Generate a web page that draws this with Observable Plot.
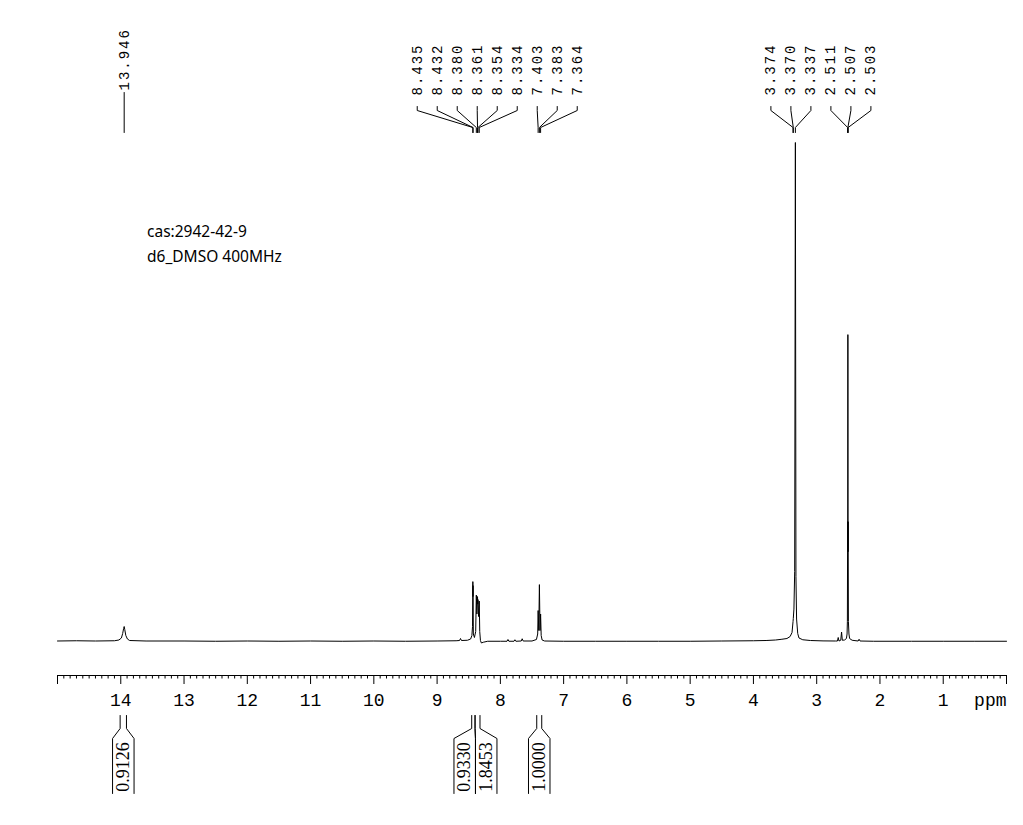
<!DOCTYPE html>
<html>
<head>
<meta charset="utf-8">
<script src="https://cdn.jsdelivr.net/npm/d3@7"></script>
<script src="https://cdn.jsdelivr.net/npm/@observablehq/plot@0.6"></script>
<style>
html, body { margin: 0; padding: 0; background: #ffffff; }
</style>
</head>
<body>
<div id="chart"></div>
<script>
// ---------------- DATA ----------------
const peakPpm = [13.946, 8.435, 8.432, 8.380, 8.361, 8.354, 8.334, 7.403, 7.383, 7.364, 3.374, 3.370, 3.337, 2.511, 2.507, 2.503];
const peakLabels = ["13.946", "8.435", "8.432", "8.380", "8.361", "8.354", "8.334", "7.403", "7.383", "7.364", "3.374", "3.370", "3.337", "2.511", "2.507", "2.503"];

const integralFrom = [14.01, 8.453, 8.40, 7.425];
const integralTo = [13.91, 8.40, 8.322, 7.346];
const integralValues = ["0.9126", "0.9330", "1.8453", "1.0000"];

const tickLabels = [1, 2, 3, 4, 5, 6, 7, 8, 9, 10, 11, 12, 13, 14];
const unitLabel = "ppm";
const infoLines = ["cas:2942-42-9", "d6_DMSO 400MHz"];

// spectrum trace: chemical shift (ppm) and relative intensity
const spectrumPpm = [15.0, 14.7, 14.4, 14.1, 14.03, 13.99, 13.97, 13.955, 13.946, 13.937, 13.92, 13.895, 13.86, 13.6, 13.0, 12.5, 12.0, 11.5, 11.0, 10.5, 10.0, 9.5, 9.0, 8.7, 8.645, 8.63, 8.615, 8.52, 8.47, 8.45, 8.44, 8.435, 8.4335, 8.432, 8.427, 8.41, 8.39, 8.380, 8.371, 8.361, 8.358, 8.354, 8.344, 8.334, 8.326, 8.315, 8.30, 8.27, 8.2, 8.0, 7.895, 7.88, 7.865, 7.785, 7.77, 7.755, 7.67, 7.655, 7.64, 7.5, 7.43, 7.41, 7.403, 7.393, 7.383, 7.373, 7.364, 7.355, 7.34, 7.3, 7.0, 6.5, 6.0, 5.5, 5.0, 4.5, 4.0, 3.8, 3.65, 3.55, 3.47, 3.42, 3.39, 3.374, 3.370, 3.36, 3.348, 3.337, 3.328, 3.318, 3.30, 3.28, 3.22, 3.1, 2.9, 2.7, 2.672, 2.66, 2.648, 2.62, 2.607, 2.595, 2.56, 2.53, 2.52, 2.515, 2.511, 2.509, 2.507, 2.505, 2.503, 2.499, 2.49, 2.48, 2.44, 2.345, 2.33, 2.315, 2.1, 1.5, 1.0, 0.5, 0.0];
const spectrumIntensity = [0.1, 0.15, 0.1, 0.15, 0.3, 0.7, 1.6, 2.6, 3.0, 2.4, 1.2, 0.5, 0.2, 0.1, 0.1, 0.05, 0.1, 0.05, 0.1, 0.05, 0.1, 0.05, 0.1, 0.15, 0.2, 0.6, 0.2, 0.25, 0.5, 1.2, 3.0, 12.0, 9.0, 11.2, 1.5, 0.8, 2.0, 9.3, 5.5, 9.0, 7.5, 8.4, 5.0, 8.1, 2.0, 0.2, -0.3, -0.15, 0.05, 0.05, 0.05, 0.4, 0.05, 0.05, 0.35, 0.05, 0.1, 0.55, 0.1, 0.1, 0.4, 1.5, 6.2, 2.2, 11.4, 2.2, 5.5, 1.2, 0.3, 0.1, 0.05, 0.05, 0.05, 0.05, 0.05, 0.1, 0.15, 0.2, 0.3, 0.45, 0.6, 1.0, 1.8, 4.0, 4.6, 6.5, 14, 100, 13, 4.5, 1.6, 0.7, 0.35, 0.2, 0.12, 0.1, 0.1, 0.8, 0.1, 0.25, 1.9, 0.25, 0.3, 0.6, 1.5, 4.0, 24, 18, 61.5, 18, 24, 4.0, 1.5, 0.6, 0.25, 0.1, 0.45, 0.1, 0.05, 0.05, 0.05, 0.05, 0.05];

// ---------------- LAYOUT ----------------
const W = 1023, H = 825;
const mLeft = 57, mRight = 17, mTop = 0, mBottom = 150;
const axisPx = H - mBottom;        // axis line position
const basePx = 641, maxPx = 142;   // baseline & tallest peak position
const k = (basePx - maxPx) / 100;
const yDomain = [-(axisPx - basePx) / k, (basePx - mTop) / k];
const xDomain = [15, 0];

const xs = Plot.scale({x: {domain: xDomain, range: [mLeft, W - mRight]}});
const ys = Plot.scale({y: {domain: yDomain, range: [axisPx, mTop]}});
const X = (px) => xs.invert(px);
const Y = (py) => ys.invert(py);

// cluster labels so that they don't overlap (centered on mean of members)
function dodge(ideal, gap) {
  let cl = ideal.map((v, i) => ({members: [i]}));
  const center = (c) => d3.mean(c.members, (i) => ideal[i]);
  const left = (c) => center(c) - (c.members.length - 1) * gap / 2;
  let merged = true;
  while (merged) {
    merged = false;
    for (let j = 0; j < cl.length - 1; j++) {
      const a = cl[j], b = cl[j + 1];
      if (left(a) + a.members.length * gap > left(b) + 1e-9) {
        cl.splice(j, 2, {members: a.members.concat(b.members)});
        merged = true;
        break;
      }
    }
  }
  const pos = new Array(ideal.length), size = new Array(ideal.length);
  for (const c of cl) {
    const l = left(c);
    c.members.forEach((i, m) => { pos[i] = l + m * gap; size[i] = c.members.length; });
  }
  return {pos, size};
}

// peak labels
const peakPx = peakPpm.map((p) => xs.apply(p));
const lab = dodge(peakPx, 20);
const labelData = [];
const bracketData = [];
peakPpm.forEach((p, i) => {
  const L = lab.pos[i], P = peakPx[i];
  if (lab.size[i] === 1) {
    labelData.push({x: X(L), y: Y(90), t: peakLabels[i]});
    bracketData.push({x: X(P), y: Y(92), z: i}, {x: X(P), y: Y(132), z: i});
  } else {
    labelData.push({x: X(L), y: Y(95), t: peakLabels[i]});
    bracketData.push(
      {x: X(L), y: Y(106), z: i}, {x: X(L), y: Y(110), z: i},
      {x: X(P), y: Y(127), z: i}, {x: X(P), y: Y(132), z: i}
    );
  }
});

// integrals
const boxW = 21.5;
const intCenters = integralFrom.map((a, i) => (xs.apply(a) + xs.apply(integralTo[i])) / 2);
const ib = dodge(intCenters, boxW);
const intLines = [];
const intText = [];
integralValues.forEach((v, i) => {
  const a = xs.apply(integralFrom[i]), b = xs.apply(integralTo[i]);
  const c = ib.pos[i], Lb = c - boxW / 2, Rb = c + boxW / 2;
  intLines.push(
    {x: X(a), y: Y(715), z: "l" + i}, {x: X(a), y: Y(728), z: "l" + i},
    {x: X(Lb), y: Y(738), z: "l" + i}, {x: X(Lb), y: Y(793), z: "l" + i},
    {x: X(b), y: Y(715), z: "r" + i}, {x: X(b), y: Y(728), z: "r" + i},
    {x: X(Rb), y: Y(738), z: "r" + i}, {x: X(Rb), y: Y(793), z: "r" + i}
  );
  intText.push({x: X(c), y: Y(766.5), t: v});
});

const spectrum = spectrumPpm.map((p, i) => ({ppm: p, v: spectrumIntensity[i]}));
const majorTicks = d3.range(0, 16);
const minorTicks = d3.range(0, 151).map((i) => i / 10).filter((d) => Math.abs(d - Math.round(d)) > 1e-6);

const chart = Plot.plot({
  width: W,
  height: H,
  marginLeft: mLeft,
  marginRight: mRight,
  marginTop: mTop,
  marginBottom: mBottom,
  style: {background: "#ffffff", color: "#000000"},
  x: {domain: xDomain, axis: null},
  y: {domain: yDomain, axis: null},
  marks: [
    // spectrum
    Plot.line(spectrum, {x: "ppm", y: "v", stroke: "#000000", strokeWidth: 1, curve: "linear"}),
    // axis
    Plot.ruleY([Y(axisPx)], {stroke: "#000000", strokeWidth: 1}),
    Plot.ruleX(majorTicks, {x: (d) => d, y1: Y(axisPx), y2: Y(axisPx + 9), stroke: "#000000", strokeWidth: 1}),
    Plot.ruleX(minorTicks, {x: (d) => d, y1: Y(axisPx), y2: Y(axisPx + 3.5), stroke: "#000000", strokeWidth: 1}),
    Plot.text(tickLabels, {x: (d) => d, y: Y(705), text: (d) => String(d), lineAnchor: "bottom", textAnchor: "middle", fontFamily: "Liberation Mono", fontSize: 18, fill: "#000000"}),
    Plot.text([unitLabel], {x: 0, y: Y(705), text: (d) => d, lineAnchor: "bottom", textAnchor: "end", fontFamily: "Liberation Mono", fontSize: 18, fill: "#000000"}),
    // peak labels
    Plot.line(bracketData, {x: "x", y: "y", z: "z", stroke: "#000000", strokeWidth: 1}),
    Plot.text(labelData, {x: "x", y: "y", text: "t", rotate: -90, textAnchor: "start", lineAnchor: "middle", fontFamily: "Liberation Mono", fontSize: 14, fill: "#000000"}),
    // integrals
    Plot.line(intLines, {x: "x", y: "y", z: "z", stroke: "#000000", strokeWidth: 1}),
    Plot.text(intText, {x: "x", y: "y", text: "t", rotate: -90, textAnchor: "middle", lineAnchor: "middle", fontFamily: "Liberation Serif", fontSize: 18, fill: "#000000"}),
    // sample info
    Plot.text(infoLines, {x: X(146.5), y: (d, i) => Y(236.5 + i * 25), text: (d) => d, textAnchor: "start", lineAnchor: "bottom", fontFamily: "Noto Sans", fontSize: 15.5, fill: "#000000"})
  ]
});

// letter spacing for the monospace peak labels
d3.select(chart).selectAll("g").filter(function () {
  return this.getAttribute("font-size") === "14";
}).attr("letter-spacing", "2px");

document.getElementById("chart").appendChild(chart);
</script>
</body>
</html>
